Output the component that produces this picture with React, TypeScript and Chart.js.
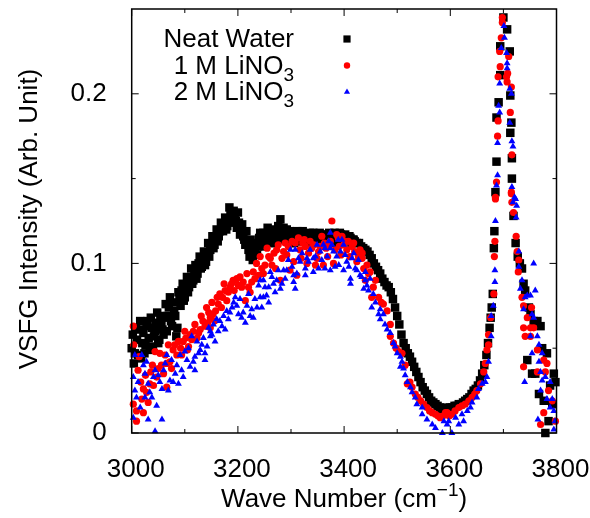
import React, { useEffect, useRef } from 'react';
import { Chart, registerables } from 'chart.js';

Chart.register(...registerables);

const FONT = '"Liberation Sans", Arial, Helvetica, sans-serif';

// Neat water (black squares)
const waterX = [3000,3004,3008,3012,3016,3020,3024,3028,3032,3036,3040,3044,3048,3052,3056,3060,3064,3068,3072,3076,3080,3084,3088,3092,3096,3100,3104,3108,3112,3116,3120,3124,3128,3132,3136,3140,3144,3148,3152,3156,3160,3164,3168,3172,3176,3180,3184,3188,3192,3196,3200,3204,3208,3212,3216,3220,3224,3228,3232,3236,3240,3244,3248,3252,3256,3260,3264,3268,3272,3276,3280,3284,3288,3292,3296,3300,3304,3308,3312,3316,3320,3324,3328,3332,3336,3340,3344,3348,3352,3356,3360,3364,3368,3372,3376,3380,3384,3388,3392,3396,3400,3404,3408,3412,3416,3420,3424,3428,3432,3436,3440,3444,3448,3452,3456,3460,3464,3468,3472,3476,3480,3484,3488,3492,3496,3500,3504,3508,3512,3516,3520,3524,3528,3532,3536,3540,3544,3548,3552,3556,3560,3564,3568,3572,3576,3580,3584,3588,3592,3596,3600,3604,3608,3612,3616,3620,3624,3628,3632,3636,3640,3644,3648,3652,3656,3660,3664,3668,3671,3674,3676,3678,3680,3682,3683,3685,3687,3687,3691,3694,3694,3700,3707,3712,3713,3713,3715,3716,3716,3719,3723,3727,3731,3735,3738,3741,3745,3748,3751,3754,3757,3760,3764,3767,3770,3773,3776,3779,3782,3785,3788,3792,3795,3798,
  3002,3006,3010,3014,3018,3022,3026,3030,3034,3038,3042,3046,3050,3054,3058,3062,3066,3070,3074,3078,3082,3086,3090,3094,3098,3102,3106,3110,3114,3118,3122,3126,3130,3134,3138,3142,3146,3150,3154,3158,3162,3166,3170,3174,3178,3182,3186,3190,3194,3198,3202,3206,3210,3214,3218,3222,3226,3230,3234,3238,3242,3246,3250,3254,3258,3262,3266,3270,3274,3278,3282,3286,3290,3294,3298,3302,3306,3310,3314,3318,3322,3326,3330,3334,3338,3342,3346,3350,3354,3358,3362,3366,3370,3374,3378,3382,3386,3390,3394,3398,3402,3406,3410,3414,3418];
const waterY = [0.050,0.041,0.062,0.046,0.066,0.053,0.047,0.063,0.056,0.068,0.051,0.060,0.071,0.055,0.065,0.058,0.076,0.069,0.080,0.063,0.072,0.057,0.083,0.075,0.088,0.080,0.092,0.086,0.097,0.090,0.099,0.094,0.104,0.098,0.107,0.101,0.112,0.108,0.116,0.111,0.120,0.116,0.124,0.119,0.127,0.122,0.133,0.128,0.131,0.125,0.130,0.117,0.123,0.114,0.119,0.108,0.114,0.102,0.109,0.105,0.115,0.110,0.118,0.113,0.121,0.116,0.112,0.119,0.115,0.122,0.126,0.118,0.114,0.120,0.116,0.112,0.118,0.114,0.119,0.115,0.118,0.113,0.117,0.114,0.118,0.115,0.117,0.113,0.116,0.114,0.117,0.113,0.116,0.118,0.114,0.117,0.113,0.116,0.118,0.114,0.116,0.115,0.116,0.115,0.114,0.113,0.112,0.112,0.110,0.109,0.108,0.107,0.105,0.103,0.100,0.098,0.096,0.094,0.091,0.089,0.087,0.086,0.083,0.079,0.074,0.069,0.064,0.058,0.053,0.050,0.047,0.045,0.042,0.039,0.036,0.033,0.030,0.027,0.025,0.023,0.021,0.019,0.018,0.017,0.016,0.015,0.014,0.014,0.015,0.014,0.015,0.015,0.016,0.016,0.017,0.017,0.018,0.019,0.020,0.021,0.023,0.025,0.026,0.028,0.031,0.035,0.040,0.046,0.053,0.062,0.068,0.074,0.082,0.109,0.119,0.142,0.160,0.186,0.195,0.211,0.228,0.245,0.238,0.225,0.199,0.177,0.183,0.162,0.150,0.128,0.112,0.104,0.100,0.097,0.088,0.084,0.043,0.074,0.070,0.035,0.066,0.035,0.066,0.023,0.063,0.050,0.019,0.000,0.047,0.007,0.028,0.017,0.035,0.030,
  0.058,0.047,0.055,0.061,0.044,0.059,0.052,0.066,0.049,0.062,0.057,0.065,0.053,0.069,0.061,0.068,0.060,0.074,0.066,0.077,0.069,0.062,0.079,0.084,0.078,0.087,0.083,0.091,0.088,0.095,0.091,0.100,0.097,0.103,0.099,0.106,0.104,0.111,0.109,0.115,0.113,0.119,0.121,0.123,0.120,0.126,0.129,0.124,0.128,0.121,0.124,0.120,0.116,0.111,0.113,0.104,0.110,0.106,0.112,0.110,0.118,0.114,0.111,0.117,0.113,0.120,0.116,0.112,0.118,0.121,0.115,0.121,0.117,0.113,0.119,0.115,0.112,0.117,0.113,0.116,0.119,0.115,0.112,0.116,0.113,0.118,0.115,0.112,0.118,0.115,0.112,0.117,0.114,0.116,0.112,0.118,0.115,0.113,0.117,0.113,0.117,0.114,0.116,0.112,0.114];

// 1 M LiNO3 (red circles)
const li1X = [3003,3003,3004,3009,3009,3012,3017,3022,3022,3028,3034,3039,3044,3047,3053,3056,3060,3066,3066,3069,3072,3078,3085,3088,3092,3097,3102,3107,3110,3116,3123,3129,3134,3138,3141,3145,3148,3148,3153,3158,3163,3166,3171,3176,3179,3185,3188,3191,3195,3201,3207,3214,3220,3226,3232,3239,3245,3251,3258,3264,3268,3273,3276,3280,3286,3292,3298,3302,3308,3311,3317,3322,3327,3333,3339,3346,3352,3358,3361,3366,3371,3377,3380,3386,3391,3396,3402,3408,3415,3420,3427,3434,3434,3440,3443,3449,3452,3459,3465,3470,3474,3481,3487,3487,3493,3498,3503,3509,3515,3519,3524,3528,3534,3539,3544,3550,3556,3561,3566,3572,3577,3581,3586,3591,3594,3598,3603,3609,3616,3622,3628,3635,3641,3646,3650,3657,3663,3666,3669,3672,3672,3676,3682,3683,3684,3685,3685,3687,3689,3690,3690,3693,3694,3696,3698,3698,3706,3707,3708,3710,3713,3715,3715,3715,3716,3716,3719,3724,3726,3728,3729,3735,3738,3738,3738,3741,3745,3751,3751,3753,3757,3764,3764,3770,3776,3776,3779,3782,3785,3792,3798,
  3014,3019,3026,3031,3036,3041,3050,3063,3075,3081,3094,3100,3105,3113,3119,3126,3131,3143,3151,3156,3161,3169,3174,3182,3193,3198,3204,3210,3217,3223,3229,3235,3242,3248,3255,3261,3271,3283,3289,3295,3305,3314,3319,3325,3330,3336,3343,3349,3355,3363,3369,3374,3383,3389,3394,3399,3405,3411,3418,3424,3430,3437,3446,3455];
const li1Y = [0.063,0.017,0.052,0.013,0.007,0.037,0.030,0.026,0.012,0.024,0.029,0.040,0.048,0.033,0.047,0.040,0.035,0.027,0.041,0.052,0.042,0.049,0.046,0.054,0.050,0.054,0.056,0.051,0.058,0.060,0.056,0.061,0.066,0.063,0.074,0.071,0.068,0.062,0.070,0.072,0.076,0.082,0.080,0.084,0.078,0.086,0.088,0.090,0.090,0.087,0.086,0.078,0.086,0.089,0.091,0.093,0.097,0.099,0.104,0.099,0.106,0.108,0.111,0.090,0.107,0.105,0.096,0.113,0.112,0.093,0.108,0.112,0.110,0.106,0.109,0.099,0.107,0.116,0.099,0.109,0.111,0.125,0.100,0.117,0.110,0.116,0.113,0.113,0.110,0.107,0.104,0.106,0.103,0.090,0.099,0.095,0.080,0.090,0.080,0.077,0.076,0.072,0.064,0.057,0.053,0.050,0.048,0.047,0.040,0.029,0.030,0.027,0.023,0.021,0.019,0.017,0.015,0.013,0.012,0.011,0.010,0.009,0.010,0.012,0.012,0.010,0.011,0.013,0.015,0.016,0.017,0.019,0.021,0.023,0.025,0.029,0.036,0.041,0.049,0.052,0.058,0.068,0.082,0.104,0.113,0.138,0.139,0.148,0.175,0.184,0.210,0.225,0.216,0.233,0.242,0.245,0.210,0.207,0.212,0.222,0.189,0.204,0.141,0.142,0.164,0.136,0.130,0.116,0.107,0.095,0.102,0.080,0.075,0.062,0.039,0.057,0.068,0.062,0.057,0.074,0.062,0.049,0.036,0.005,0.043,0.012,0.036,0.041,0.025,0.019,0.007,
  0.045,0.020,0.034,0.018,0.036,0.028,0.038,0.046,0.038,0.052,0.046,0.060,0.049,0.055,0.064,0.059,0.069,0.065,0.077,0.066,0.080,0.074,0.088,0.083,0.084,0.091,0.092,0.089,0.094,0.083,0.095,0.100,0.104,0.094,0.109,0.103,0.097,0.103,0.112,0.110,0.101,0.115,0.103,0.114,0.100,0.113,0.111,0.103,0.110,0.112,0.104,0.113,0.108,0.115,0.105,0.111,0.108,0.104,0.112,0.101,0.108,0.097,0.094,0.086];

// 2 M LiNO3 (blue triangles)
const li2X = [3003,3003,3006,3006,3009,3016,3019,3025,3025,3028,3031,3031,3038,3041,3044,3044,3047,3050,3057,3057,3060,3066,3072,3078,3082,3085,3088,3091,3094,3100,3104,3110,3113,3119,3119,3129,3132,3138,3138,3148,3148,3154,3157,3163,3166,3173,3176,3182,3185,3189,3195,3198,3201,3207,3210,3214,3223,3226,3229,3236,3239,3242,3242,3245,3248,3248,3251,3254,3258,3258,3264,3267,3273,3276,3280,3283,3286,3292,3295,3299,3305,3305,3308,3308,3314,3327,3327,3330,3342,3342,3352,3355,3364,3364,3374,3374,3374,3377,3380,3383,3389,3390,3393,3396,3399,3399,3405,3412,3412,3418,3421,3427,3430,3437,3440,3440,3446,3449,3452,3455,3459,3465,3468,3468,3474,3477,3481,3487,3493,3496,3500,3506,3506,3509,3512,3515,3519,3525,3528,3534,3537,3547,3547,3556,3566,3572,3585,3588,3594,3597,3603,3610,3616,3622,3625,3632,3638,3641,3650,3653,3660,3666,3669,3672,3677,3677,3681,3684,3684,3685,3687,3689,3689,3691,3693,3693,3696,3701,3702,3706,3707,3707,3712,3712,3715,3716,3716,3718,3718,3721,3723,3724,3725,3729,3729,3732,3735,3738,3740,3741,3745,3751,3751,3754,3754,3757,3757,3760,3764,3765,3767,3767,3770,3770,3773,3773,3779,3782,3788,3788,3792,3795,3795,3797,
  3012,3022,3034,3053,3063,3069,3075,3097,3107,3116,3123,3126,3135,3142,3145,3151,3160,3170,3179,3192,3204,3217,3220,3232,3261,3270,3289,3302,3311,3317,3321,3333,3336,3346,3349,3358,3361,3368,3371,3386,3402,3409,3415,3424,3433,3443];
const li2Y = [0.033,0.009,0.046,0.025,0.021,0.015,0.046,0.035,0.021,0.042,0.029,0.008,0.021,0.033,0.037,0.001,0.016,0.034,0.026,0.008,0.037,0.046,0.031,0.030,0.035,0.040,0.029,0.046,0.037,0.048,0.043,0.039,0.057,0.045,0.037,0.049,0.052,0.043,0.047,0.057,0.060,0.064,0.054,0.060,0.066,0.069,0.061,0.067,0.071,0.074,0.080,0.075,0.070,0.068,0.071,0.065,0.069,0.073,0.068,0.074,0.087,0.080,0.090,0.074,0.080,0.090,0.086,0.081,0.077,0.086,0.092,0.088,0.090,0.096,0.085,0.088,0.096,0.096,0.102,0.108,0.093,0.089,0.085,0.108,0.103,0.093,0.097,0.103,0.103,0.095,0.097,0.107,0.097,0.109,0.109,0.096,0.118,0.111,0.107,0.098,0.114,0.099,0.107,0.114,0.111,0.096,0.101,0.091,0.088,0.106,0.097,0.102,0.093,0.085,0.095,0.090,0.084,0.091,0.074,0.082,0.077,0.070,0.073,0.067,0.070,0.064,0.061,0.059,0.053,0.051,0.047,0.045,0.039,0.042,0.038,0.034,0.030,0.027,0.024,0.021,0.017,0.015,0.011,0.008,0.005,0.003,0.000,0.007,0.005,0.007,0.000,0.009,0.005,0.011,0.007,0.013,0.015,0.018,0.021,0.026,0.029,0.030,0.033,0.042,0.057,0.069,0.075,0.089,0.096,0.125,0.146,0.152,0.171,0.193,0.189,0.206,0.227,0.240,0.233,0.224,0.218,0.215,0.203,0.183,0.200,0.172,0.145,0.169,0.136,0.139,0.138,0.127,0.134,0.107,0.098,0.085,0.090,0.073,0.030,0.080,0.081,0.081,0.057,0.070,0.047,0.100,0.068,0.084,0.057,0.008,0.052,0.042,0.036,0.025,0.047,0.031,0.033,0.020,0.030,0.015,0.020,0.013,0.002,0.007,
  0.030,0.040,0.024,0.030,0.041,0.025,0.043,0.033,0.050,0.042,0.054,0.047,0.056,0.051,0.062,0.058,0.067,0.063,0.072,0.077,0.079,0.075,0.082,0.079,0.095,0.083,0.091,0.098,0.094,0.101,0.106,0.101,0.108,0.104,0.111,0.102,0.111,0.104,0.113,0.104,0.105,0.098,0.103,0.096,0.092,0.087];

const seriesNames = ['Neat Water', '1 M LiNO', '2 M LiNO'];
const seriesSubs = ['', '3', '3'];
const seriesColors = ['#000000', '#ff0000', '#0000ff'];

const xTickValues = [3000, 3200, 3400, 3600, 3800];
const xMinorTicks = [3100, 3300, 3500, 3700];
const yTickValues = [0, 0.1, 0.2];
const yTickLabels = ['0', '0.1', '0.2'];
const yMinorTicks = [0.05, 0.15];

const xTitle = 'Wave Number (cm';
const xTitleSup = '\u22121';
const yTitle = 'VSFG Intensity (Arb. Unit)';

const toPts = (xs: number[], ys: number[]) => xs.map((x, i) => ({ x, y: ys[i] }));

function drawMarker(ctx: CanvasRenderingContext2D, kind: number, x: number, y: number) {
  ctx.fillStyle = seriesColors[kind];
  ctx.beginPath();
  if (kind === 0) {
    ctx.rect(x - 3.6, y - 3.6, 7.2, 7.2);
  } else if (kind === 1) {
    ctx.arc(x, y, 3.2, 0, Math.PI * 2);
  } else {
    ctx.moveTo(x, y - 3.6);
    ctx.lineTo(x + 3.1, y + 1.8);
    ctx.lineTo(x - 3.1, y + 1.8);
    ctx.closePath();
  }
  ctx.fill();
}

const zeroPad = (s: any) => {
  s.paddingTop = 0;
  s.paddingBottom = 0;
  s.paddingLeft = 0;
  s.paddingRight = 0;
};

const framePlugin = {
  id: 'gnuFrame',
  afterDraw(chart: any) {
    const { ctx, chartArea: a, scales } = chart;
    const sx = scales.x;
    const sy = scales.y;
    ctx.save();
    ctx.strokeStyle = '#000';
    ctx.lineWidth = 1.5;
    ctx.strokeRect(a.left, a.top, a.right - a.left, a.bottom - a.top);
    ctx.lineWidth = 1;
    const major = 7;
    const minor = 4;
    ctx.beginPath();
    const xt = (v: number, len: number) => {
      const px = sx.getPixelForValue(v);
      ctx.moveTo(px, a.bottom);
      ctx.lineTo(px, a.bottom - len);
      ctx.moveTo(px, a.top);
      ctx.lineTo(px, a.top + len);
    };
    const yt = (v: number, len: number) => {
      const py = sy.getPixelForValue(v);
      ctx.moveTo(a.left, py);
      ctx.lineTo(a.left + len, py);
      ctx.moveTo(a.right, py);
      ctx.lineTo(a.right - len, py);
    };
    xTickValues.forEach((v) => xt(v, major));
    xMinorTicks.forEach((v) => xt(v, minor));
    yTickValues.forEach((v) => yt(v, major));
    yMinorTicks.forEach((v) => yt(v, minor));
    ctx.stroke();

    // Legend
    const mainFont = `26px ${FONT}`;
    const subFont = `19px ${FONT}`;
    const baselines = [47, 73.5, 100];
    const rightX = 294;
    const markerX = 347;
    ctx.textBaseline = 'alphabetic';
    ctx.textAlign = 'left';
    seriesNames.forEach((name, i) => {
      ctx.font = mainFont;
      const w1 = ctx.measureText(name).width;
      ctx.font = subFont;
      const w2 = seriesSubs[i] ? ctx.measureText(seriesSubs[i]).width : 0;
      const x0 = rightX - w1 - w2;
      ctx.fillStyle = '#000';
      ctx.font = mainFont;
      ctx.fillText(name, x0, baselines[i]);
      if (seriesSubs[i]) {
        ctx.font = subFont;
        ctx.fillText(seriesSubs[i], x0 + w1, baselines[i] + 7);
      }
      drawMarker(ctx, i, markerX, baselines[i] - 8);
    });

    // X title with superscript
    ctx.fillStyle = '#000';
    ctx.font = mainFont;
    const tw1 = ctx.measureText(xTitle).width;
    ctx.font = subFont;
    const tw2 = ctx.measureText(xTitleSup).width;
    ctx.font = mainFont;
    const tw3 = ctx.measureText(')').width;
    const cx = (a.left + a.right) / 2;
    let tx = cx - (tw1 + tw2 + tw3) / 2;
    const tb = 507;
    ctx.fillText(xTitle, tx, tb);
    tx += tw1;
    ctx.font = subFont;
    ctx.fillText(xTitleSup, tx, tb - 11);
    tx += tw2;
    ctx.font = mainFont;
    ctx.fillText(')', tx, tb);

    // Y title
    ctx.translate(37, (a.top + a.bottom) / 2 - 2);
    ctx.rotate(-Math.PI / 2);
    ctx.textAlign = 'center';
    ctx.font = mainFont;
    ctx.fillText(yTitle, 0, 0);
    ctx.restore();
  },
};

export default function App() {
  const ref = useRef<HTMLCanvasElement | null>(null);
  useEffect(() => {
    if (!ref.current) return;
    const common = { borderWidth: 0, pointBorderWidth: 0, pointHoverRadius: 0 };
    const chart = new Chart(ref.current, {
      type: 'scatter',
      data: {
        datasets: [
          { label: 'Neat Water', data: toPts(waterX, waterY), pointStyle: 'rect', pointRadius: 6, backgroundColor: seriesColors[0], pointBackgroundColor: seriesColors[0], order: 3, clip: false, ...common },
          { label: '1 M LiNO3', data: toPts(li1X, li1Y), pointStyle: 'circle', pointRadius: 3.6, backgroundColor: seriesColors[1], pointBackgroundColor: seriesColors[1], order: 2, clip: false, ...common },
          { label: '2 M LiNO3', data: toPts(li2X, li2Y), pointStyle: 'triangle', pointRadius: 4, backgroundColor: seriesColors[2], pointBackgroundColor: seriesColors[2], order: 1, clip: false, ...common },
        ] as any,
      },
      options: {
        animation: false,
        responsive: true,
        maintainAspectRatio: false,
        events: [],
        layout: { padding: { top: 9, right: 33.5, left: 0, bottom: 0 } },
        plugins: { legend: { display: false }, tooltip: { enabled: false } },
        scales: {
          x: {
            type: 'linear',
            min: 3000,
            max: 3800,
            grid: { display: false },
            border: { display: false },
            afterBuildTicks: (s: any) => { s.ticks = xTickValues.map((v) => ({ value: v })); },
            afterFit: (s: any) => { s.height = 85; zeroPad(s); },
            ticks: {
              font: { family: FONT, size: 26 },
              color: '#000',
              padding: 13,
              labelOffset: 4,
              maxRotation: 0,
              autoSkip: false,
              callback: (v: any) => String(v),
            },
          },
          y: {
            type: 'linear',
            min: 0,
            max: 0.25,
            grid: { display: false },
            border: { display: false },
            afterBuildTicks: (s: any) => { s.ticks = yTickValues.map((v) => ({ value: v })); },
            afterFit: (s: any) => { s.width = 131.7; zeroPad(s); },
            ticks: {
              font: { family: FONT, size: 26 },
              color: '#000',
              padding: 17,
              autoSkip: false,
              callback: (v: any) => {
                const i = yTickValues.indexOf(v);
                return i >= 0 ? yTickLabels[i] : '';
              },
            },
          },
        },
      } as any,
      plugins: [framePlugin],
    });
    return () => chart.destroy();
  }, []);
  return (
    <div style={{ position: 'fixed', left: 0, top: 0, width: 590, height: 518, background: '#fff' }}>
      <canvas ref={ref} />
    </div>
  );
}
